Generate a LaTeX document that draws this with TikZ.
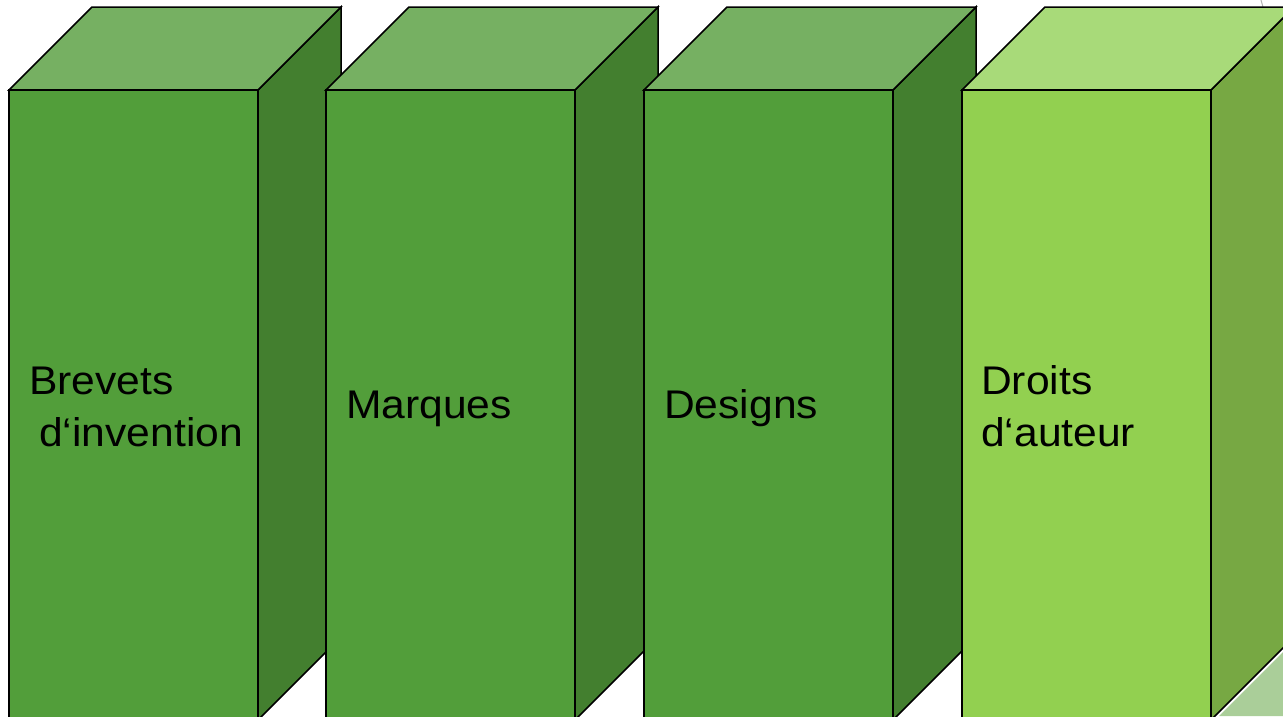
\documentclass[tikz,border=0pt]{standalone}
\usepackage{fontspec}
\setmainfont{Liberation Sans}
\definecolor{frontA}{HTML}{529E3A}
\definecolor{topA}{HTML}{76B062}
\definecolor{sideA}{HTML}{437F2F}
\definecolor{frontB}{HTML}{92D050}
\definecolor{topB}{HTML}{A8DA79}
\definecolor{sideB}{HTML}{77A843}
\definecolor{paleG}{HTML}{AACE99}
\newcommand\mycuboid[4]{%
  \fill[#3,draw=black,line width=1.5pt,line join=miter] (#1+249,90) -- (#1+332,7) -- (#1+332,637) -- (#1+249,720) -- cycle;
  \fill[#4,draw=black,line width=1.5pt,line join=miter] (#1,90) -- (#1+83,7) -- (#1+332,7) -- (#1+249,90) -- cycle;
  \fill[#2,draw=black,line width=1.5pt] (#1,90) rectangle (#1+249,720);
}
\tikzset{lbl/.style={anchor=base west,inner sep=0pt,font=\fontsize{40}{48}\selectfont,text=black,xscale=1.065}}
\begin{document}
\begin{tikzpicture}[x=1pt,y=-1pt]
\useasboundingbox (0,0) rectangle (1283,716);
\fill[white] (0,0) rectangle (1283,716);
\fill[paleG] (1219,716) -- (1283,652) -- (1283,716) -- cycle;
\draw[gray!60,line width=1pt] (1261,0) -- (1263,7);
\mycuboid{9}{frontA}{sideA}{topA}
\mycuboid{326}{frontA}{sideA}{topA}
\mycuboid{644}{frontA}{sideA}{topA}
\mycuboid{962}{frontB}{sideB}{topB}
\node[lbl] (b1) at (29,394) {Brevets};
\node[lbl] (b2) at (39,446) {d‘invention};
\node[lbl] (m) at (346,418) {Marques};
\node[lbl] (d) at (664,418) {Designs};
\node[lbl] (r1) at (981,394) {Droits};
\node[lbl] (r2) at (981,446) {d‘auteur};
\end{tikzpicture}
\end{document}
